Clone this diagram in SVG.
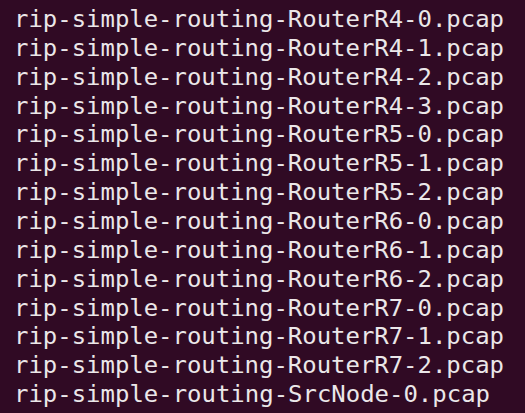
<svg xmlns="http://www.w3.org/2000/svg" width="525" height="413" viewBox="0 0 525 413">
<style>
.t{font-family:"DejaVu Sans Mono","Liberation Mono",monospace;font-size:23px;fill:#ebe7e9}
</style>
<rect x="0" y="0" width="525" height="413" fill="#300a24"/>
<g id="listing">
<text class="t" x="14" y="27" textLength="490" lengthAdjust="spacingAndGlyphs">rip-simple-routing-RouterR4-0.pcap</text>
<text class="t" x="14" y="55.85" textLength="490" lengthAdjust="spacingAndGlyphs">rip-simple-routing-RouterR4-1.pcap</text>
<text class="t" x="14" y="84.7" textLength="490" lengthAdjust="spacingAndGlyphs">rip-simple-routing-RouterR4-2.pcap</text>
<text class="t" x="14" y="113.55" textLength="490" lengthAdjust="spacingAndGlyphs">rip-simple-routing-RouterR4-3.pcap</text>
<text class="t" x="14" y="142.4" textLength="490" lengthAdjust="spacingAndGlyphs">rip-simple-routing-RouterR5-0.pcap</text>
<text class="t" x="14" y="171.25" textLength="490" lengthAdjust="spacingAndGlyphs">rip-simple-routing-RouterR5-1.pcap</text>
<text class="t" x="14" y="200.1" textLength="490" lengthAdjust="spacingAndGlyphs">rip-simple-routing-RouterR5-2.pcap</text>
<text class="t" x="14" y="228.95" textLength="490" lengthAdjust="spacingAndGlyphs">rip-simple-routing-RouterR6-0.pcap</text>
<text class="t" x="14" y="257.8" textLength="490" lengthAdjust="spacingAndGlyphs">rip-simple-routing-RouterR6-1.pcap</text>
<text class="t" x="14" y="286.65" textLength="490" lengthAdjust="spacingAndGlyphs">rip-simple-routing-RouterR6-2.pcap</text>
<text class="t" x="14" y="315.5" textLength="490" lengthAdjust="spacingAndGlyphs">rip-simple-routing-RouterR7-0.pcap</text>
<text class="t" x="14" y="344.35" textLength="490" lengthAdjust="spacingAndGlyphs">rip-simple-routing-RouterR7-1.pcap</text>
<text class="t" x="14" y="373.2" textLength="490" lengthAdjust="spacingAndGlyphs">rip-simple-routing-RouterR7-2.pcap</text>
<text class="t" x="14" y="402.05" textLength="476" lengthAdjust="spacingAndGlyphs">rip-simple-routing-SrcNode-0.pcap</text>
</g>
</svg>
